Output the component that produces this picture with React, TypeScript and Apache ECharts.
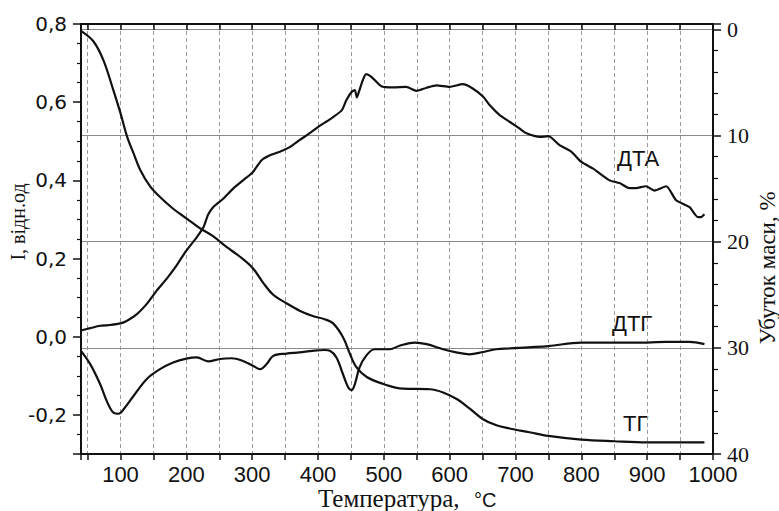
import React, { useEffect, useRef } from "react";
import * as echarts from "echarts";

// ДТА (left axis, відн.од)
const dtaTemp = [40, 54, 69, 84, 100, 110, 125, 140, 155, 170, 185, 200, 216, 226, 233, 241, 256, 271, 286, 301, 314, 327, 342, 357, 372, 387, 403, 418, 436, 443, 451, 456, 459, 463, 468, 473, 481, 496, 514, 534, 550, 565, 580, 600, 620, 635, 651, 661, 676, 691, 706, 716, 737, 750, 767, 785, 800, 818, 843, 858, 873, 883, 898, 911, 929, 944, 964, 977, 982, 987];
const dtaValue = [0.016, 0.022, 0.028, 0.030, 0.034, 0.041, 0.058, 0.084, 0.118, 0.148, 0.182, 0.220, 0.255, 0.280, 0.312, 0.332, 0.353, 0.379, 0.400, 0.421, 0.451, 0.464, 0.473, 0.485, 0.503, 0.520, 0.540, 0.556, 0.579, 0.605, 0.626, 0.631, 0.612, 0.631, 0.656, 0.672, 0.665, 0.641, 0.638, 0.639, 0.629, 0.637, 0.643, 0.639, 0.646, 0.635, 0.614, 0.592, 0.567, 0.550, 0.533, 0.521, 0.511, 0.513, 0.490, 0.473, 0.447, 0.430, 0.400, 0.393, 0.380, 0.380, 0.385, 0.374, 0.385, 0.349, 0.332, 0.306, 0.306, 0.313];

// ДТГ (left axis)
const dtgTemp = [40, 54, 69, 79, 89, 97, 105, 120, 140, 160, 180, 200, 216, 233, 251, 269, 286, 301, 312, 322, 332, 352, 372, 392, 410, 418, 428, 438, 446, 451, 456, 463, 473, 486, 509, 524, 547, 565, 590, 610, 630, 651, 671, 691, 720, 750, 800, 850, 900, 929, 964, 987];
const dtgValue = [-0.036, -0.070, -0.121, -0.164, -0.194, -0.197, -0.185, -0.151, -0.108, -0.083, -0.066, -0.056, -0.053, -0.063, -0.057, -0.055, -0.062, -0.074, -0.083, -0.070, -0.049, -0.043, -0.040, -0.036, -0.034, -0.036, -0.053, -0.096, -0.130, -0.137, -0.121, -0.079, -0.049, -0.032, -0.032, -0.023, -0.015, -0.019, -0.032, -0.040, -0.045, -0.039, -0.032, -0.030, -0.027, -0.024, -0.015, -0.015, -0.015, -0.013, -0.013, -0.019];

// ТГ (right axis, убуток маси %)
const tgTemp = [41, 59, 74, 89, 100, 110, 120, 130, 145, 160, 180, 200, 221, 241, 261, 281, 301, 317, 332, 352, 372, 392, 410, 423, 438, 448, 458, 474, 499, 529, 570, 590, 610, 630, 650, 671, 691, 721, 750, 800, 850, 900, 987];
const tgLoss = [0.2, 1.15, 2.9, 5.7, 7.9, 10.1, 11.7, 13.25, 14.8, 15.8, 16.9, 17.8, 18.75, 19.5, 20.5, 21.4, 22.5, 23.9, 25.0, 25.8, 26.5, 27.0, 27.3, 27.7, 29.0, 30.5, 31.8, 32.75, 33.4, 33.85, 33.9, 34.2, 34.8, 35.7, 36.7, 37.3, 37.6, 37.95, 38.3, 38.65, 38.8, 38.9, 38.9];

const seriesNames = ["ДТА", "ДТГ", "ТГ"];
const xAxisName = "Температура,";
const xAxisUnit = "°C";
const leftAxisName = "I, відн.од";
const rightAxisName = "Убуток маси, %";

const zip = (a: number[], b: number[]) => a.map((t, i) => [t, b[i]]);

export default function App() {
  const ref = useRef<HTMLDivElement>(null);
  useEffect(() => {
    if (!ref.current) return;
    const chart = echarts.init(ref.current, null, { renderer: "svg" });
    const black = "#111";
    const sans = "Liberation Sans";
    const option: any = {
      animation: false,
      backgroundColor: "#fff",
      grid: { left: 81, right: 66, top: 24, bottom: 57, containLabel: false, outerBoundsMode: "none" },
      xAxis: [
        { type: "value", min: 40, max: 1000, show: false },
        {
          type: "value", position: "bottom", inverse: true, min: -1000, max: -40, interval: 50,
          axisLine: { show: true, onZero: false, lineStyle: { color: black, width: 2 } },
          axisTick: { show: true, inside: false, length: 6, lineStyle: { color: black, width: 1.5 } },
          axisLabel: {
            show: true, margin: 9, color: black, fontFamily: sans, fontSize: 22, lineHeight: 22, showMinLabel: true, showMaxLabel: true,
            formatter: (v: number) => { const a = Math.round(-v); return a % 100 === 0 ? String(a) : ""; },
          },
          splitLine: { show: true, lineStyle: { color: "#9a9a9a", width: 1, type: [4, 3] } },
        },
        {
          type: "value", position: "top", inverse: true, min: -1000, max: -40, interval: 50,
          axisLine: { show: true, onZero: false, lineStyle: { color: black, width: 2 } },
          axisTick: { show: true, inside: true, length: 6, lineStyle: { color: black, width: 1.5 } },
          axisLabel: { show: false },
          splitLine: { show: false },
        },
      ],
      yAxis: [
        { type: "value", min: -0.3, max: 0.8, show: false },
        { type: "value", min: -0.5, max: 40, inverse: true, show: false },
        {
          type: "value", position: "left", inverse: true, min: -0.8, max: 0.3, interval: 0.2,
          axisLine: { show: true, onZero: false, lineStyle: { color: black, width: 2 } },
          axisTick: { show: true, inside: false, length: 8, lineStyle: { color: black, width: 1.5 } },
          minorTick: { show: true, splitNumber: 4, length: 4, lineStyle: { color: black, width: 1.2 } },
          axisLabel: {
            show: true, margin: 14, color: black, fontFamily: "DejaVu Sans", fontSize: 20, showMinLabel: true, showMaxLabel: true,
            formatter: (v: number) => {
              if (v > 0.25) return "";
              const a = Math.round(-v * 10) / 10;
              return (a === 0 ? "0.0" : a.toFixed(1)).replace(".", ",");
            },
          },
          splitLine: { show: false },
        },
        {
          type: "value", position: "right", min: -40, max: 0.5, interval: 10,
          axisLine: { show: true, onZero: false, lineStyle: { color: black, width: 2 } },
          axisTick: { show: true, inside: false, length: 8, lineStyle: { color: black, width: 1.5 } },
          minorTick: { show: true, splitNumber: 5, length: 5, lineStyle: { color: black, width: 1.2 } },
          axisLabel: {
            show: true, margin: 14, color: black, fontFamily: "Liberation Serif", fontSize: 22, showMinLabel: true, showMaxLabel: true,
            formatter: (v: number) => (v > 0.1 ? "" : String(Math.round(-v))),
          },
          splitLine: { show: true, lineStyle: { color: "#8a8a8a", width: 1.2, type: "solid" } },
        },
      ],
      series: [
        {
          name: seriesNames[0], type: "line", xAxisIndex: 0, yAxisIndex: 0, data: zip(dtaTemp, dtaValue),
          smooth: 0.2, showSymbol: false, lineStyle: { color: black, width: 2.2 }, silent: true,
        },
        {
          name: seriesNames[1], type: "line", xAxisIndex: 0, yAxisIndex: 0, data: zip(dtgTemp, dtgValue),
          smooth: 0.35, showSymbol: false, lineStyle: { color: black, width: 2.2 }, silent: true,
        },
        {
          name: seriesNames[2], type: "line", xAxisIndex: 0, yAxisIndex: 1, data: zip(tgTemp, tgLoss),
          smooth: 0.35, showSymbol: false, lineStyle: { color: black, width: 2.2 }, silent: true,
        },
      ],
      graphic: [
        { type: "text", x: 617, y: 158, style: { text: seriesNames[0], fill: black, font: `22px "${sans}"`, align: "left", verticalAlign: "middle" } },
        { type: "text", x: 612, y: 323, style: { text: seriesNames[1], fill: black, font: `22px "${sans}"`, align: "left", verticalAlign: "middle" } },
        { type: "text", x: 623, y: 423, style: { text: seriesNames[2], fill: black, font: `22px "${sans}"`, align: "left", verticalAlign: "middle" } },
        { type: "text", x: 18, y: 222, rotation: Math.PI / 2, style: { text: leftAxisName, fill: black, font: `20px "Liberation Serif"`, align: "center", verticalAlign: "middle" } },
        { type: "text", x: 767, y: 268, rotation: Math.PI / 2, style: { text: rightAxisName, fill: black, font: `23px "Liberation Serif"`, align: "center", verticalAlign: "middle" } },
        { type: "text", x: 318, y: 498, style: { text: xAxisName, fill: black, font: `25px "Liberation Serif"`, align: "left", verticalAlign: "middle", lineHeight: 24 } },
        { type: "text", x: 474, y: 500, style: { text: xAxisUnit, fill: black, font: `20px "${sans}"`, align: "left", verticalAlign: "middle", lineHeight: 20 } },
      ],
    };
    chart.setOption(option);
    return () => chart.dispose();
  }, []);
  return <div ref={ref} style={{ position: "absolute", left: 0, top: 0, width: 779, height: 511 }} />;
}
